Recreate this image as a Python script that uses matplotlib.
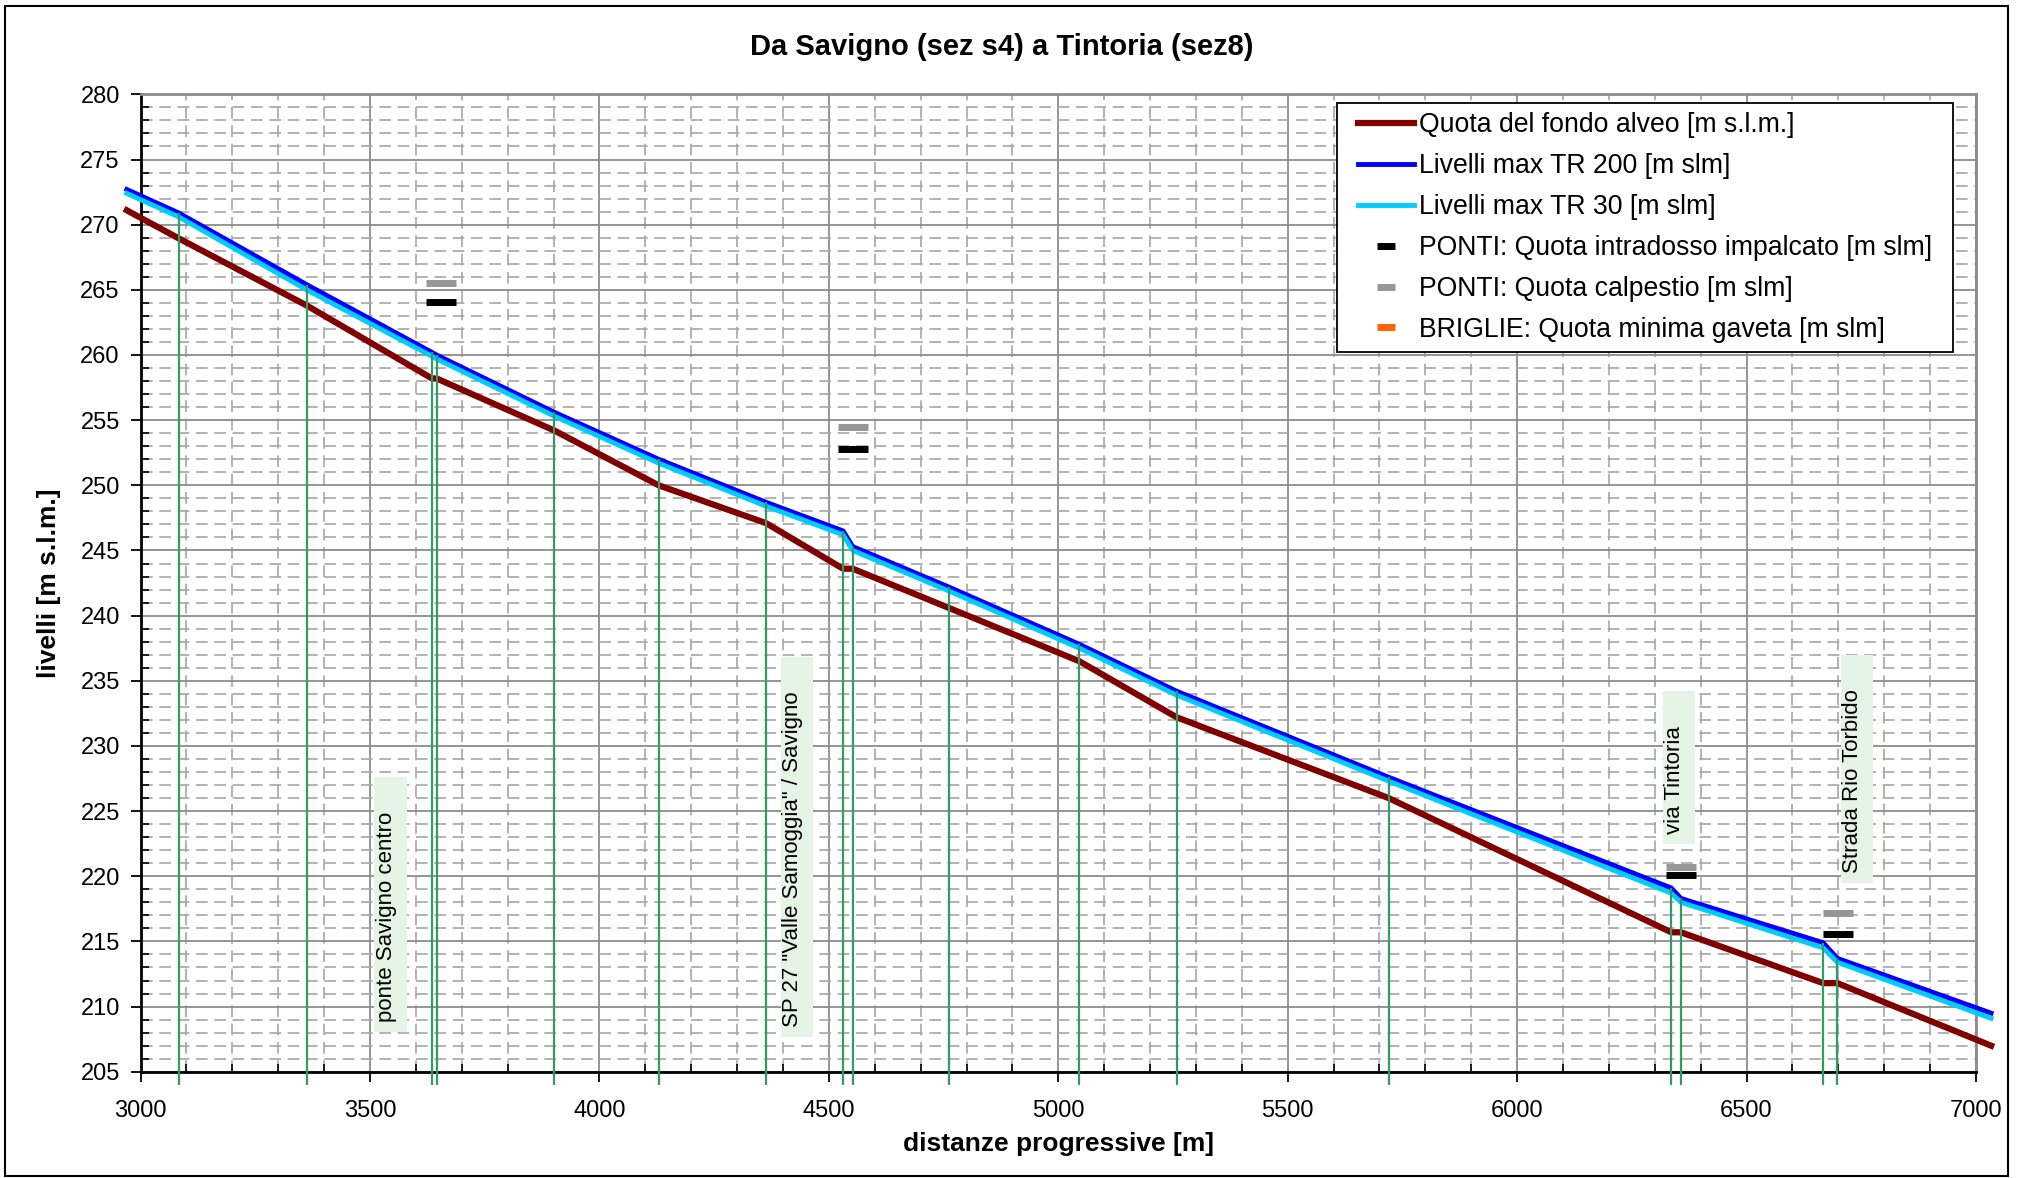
import matplotlib.pyplot as plt
from matplotlib.ticker import MultipleLocator
from matplotlib.patches import Rectangle
from matplotlib.path import Path

plt.rcParams['font.family'] = ['Liberation Sans', 'DejaVu Sans']

# distanze progressive [m] e livelli [m slm]
dist = [2970, 3083, 3362, 3635, 3645, 3902, 4129, 4363, 4531, 4552,
        4761, 5046, 5258, 5720, 6336, 6357, 6667, 6698, 7033]
bed = [271.1, 268.95, 263.8, 258.2, 258.2, 254.2, 250.0, 247.1, 243.6, 243.6,
       240.6, 236.5, 232.2, 226.0, 215.7, 215.7, 211.8, 211.8, 207.0]
tr200 = [272.7, 270.9, 265.4, 260.2, 260.0, 255.6, 252.0, 248.7, 246.5, 245.3,
         242.2, 237.8, 234.2, 227.6, 219.1, 218.3, 214.9, 213.7, 209.5]
tr30 = [272.4, 270.6, 265.0, 259.9, 259.7, 255.3, 251.7, 248.4, 246.2, 245.0,
        241.9, 237.5, 233.9, 227.3, 218.7, 218.0, 214.5, 213.4, 209.1]

# sezioni (linee verticali verdi)
sez_x = dist[1:-1]
sez_top = tr200[1:-1]
sez_bottom = 204

# ponti
bridge_x = [3655, 4552, 6357, 6699]
calpestio = [265.5, 254.5, 220.7, 217.2]
intradosso = [264.1, 252.8, 220.1, 215.6]

# etichette ponti
label_text = ['ponte Savigno centro', 'SP 27 "Valle Samoggia" / Savigno',
              'via Tintoria', 'Strada Rio Torbido']
label_x = [3535, 4421, 6344, 6732]
label_y = [216.9, 221.3, 227.4, 227.3]


# riquadro etichette: piu' margine a fine testo
def label_box(x0, y0, width, height, mutation_size):
    l = x0 - 0.45 * mutation_size
    r = x0 + width + 1.55 * mutation_size
    b = y0 - 0.45 * mutation_size
    t = y0 + height + 0.05 * mutation_size
    return Path([(l, b), (r, b), (r, t), (l, t), (l, b)], closed=True)


# cornice legenda: margine orizzontale maggiore
def legend_frame(x0, y0, width, height, mutation_size):
    l = x0 - 0.44 * mutation_size
    r = x0 + width + 0.44 * mutation_size
    b = y0
    t = y0 + height
    return Path([(l, b), (r, b), (r, t), (l, t), (l, b)], closed=True)


fig = plt.figure(figsize=(20.2, 11.78), dpi=100)
ax = fig.add_axes([0.0696, 0.0902, 0.9086, 0.8297])

# griglia
ax.set_xlim(3000, 7000)
ax.set_ylim(205, 280)
ax.xaxis.set_major_locator(MultipleLocator(500))
ax.xaxis.set_minor_locator(MultipleLocator(100))
ax.yaxis.set_major_locator(MultipleLocator(5))
ax.yaxis.set_minor_locator(MultipleLocator(1))
ax.grid(which='major', color='#8c8c8c', lw=1.3, ls='-', zorder=0)
ax.grid(which='minor', color='#a6a6a6', lw=1.2, ls=(0, (7, 4)), zorder=0)
ax.set_axisbelow(True)
ax.tick_params(which='major', direction='out', length=7, width=1.3,
               labelsize=17, color='black')
ax.tick_params(axis='x', which='major', pad=13)
ax.tick_params(axis='y', which='major', pad=8)
ax.tick_params(which='minor', direction='in', length=6, width=1.2, color='black')
for s in ['left', 'bottom']:
    ax.spines[s].set_color('black')
    ax.spines[s].set_linewidth(2)
for s in ['top', 'right']:
    ax.spines[s].set_color('#8c8c8c')
    ax.spines[s].set_linewidth(2)

# profili
ax.plot(dist, bed, color='#800000', lw=4.5, clip_on=False, zorder=3,
        label='Quota del fondo alveo [m s.l.m.]')
ax.plot(dist, tr200, color='#0000ff', lw=3.5, clip_on=False, zorder=3,
        label='Livelli max TR 200 [m slm]')
ax.plot(dist, tr30, color='#00ccff', lw=3.5, clip_on=False, zorder=3,
        label='Livelli max TR 30 [m slm]')
ax.vlines(sez_x, sez_bottom, sez_top, colors='#339966', lw=1.6,
          clip_on=False, zorder=4)

# ponti
ax.plot(bridge_x, intradosso, ls='none', marker='_', ms=21, mew=5,
        color='black', zorder=5, label='PONTI: Quota intradosso impalcato [m slm]')
ax.plot(bridge_x, calpestio, ls='none', marker='_', ms=21, mew=5,
        color='#969696', zorder=5, label='PONTI: Quota calpestio [m slm]')
ax.plot([], [], ls='none', marker='_', ms=21, mew=5, color='#ff6600',
        label='BRIGLIE: Quota minima gaveta [m slm]')

for t, x, y in zip(label_text, label_x, label_y):
    ax.text(x, y, t, rotation=90, ha='center', va='center', fontsize=16,
            zorder=2, bbox=dict(boxstyle=label_box, fc='#e6f4e6', ec='none'))

leg = ax.legend(loc='upper right', bbox_to_anchor=(0.9809, 0.9908),
                borderaxespad=0, fontsize=19.2, fancybox=False, framealpha=1,
                edgecolor='black', handlelength=2.1, handletextpad=0.2,
                labelspacing=0.56, borderpad=0.33, numpoints=1, markerscale=0.65)
leg.get_frame().set_linewidth(1.3)
leg.get_frame().set_boxstyle(legend_frame)

ax.set_xlabel('distanze progressive [m]', fontsize=19, fontweight='bold')
ax.set_ylabel('livelli [m s.l.m.]', fontsize=19, fontweight='bold')
ax.xaxis.set_label_coords(0.5, -0.062)
ax.yaxis.set_label_coords(-0.0435, 0.5)

fig.text(0.496, 0.960, 'Da Savigno (sez s4) a Tintoria (sez8)', ha='center',
         va='center', fontsize=21, fontweight='bold')

# bordo esterno
fig.patches.append(Rectangle((5 / 2020, 2 / 1178), 2003 / 2020, 1170 / 1178,
                             transform=fig.transFigure, fill=False,
                             ec='black', lw=1.5))

fig.savefig('out.png', dpi=100)
